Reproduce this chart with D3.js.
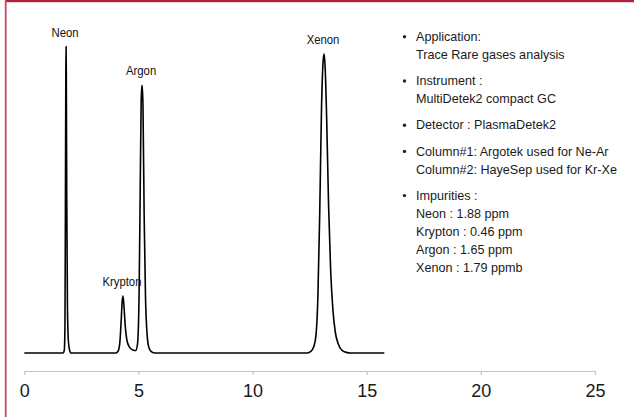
<!DOCTYPE html>
<html>
<head>
<meta charset="utf-8">
<script src="https://cdn.jsdelivr.net/npm/d3@7"></script>
<style>
  body { margin: 0; background: #fff; }
  svg { display: block; }
</style>
</head>
<body>
<script>
// chromatogram trace (time in min, signal in % of the Neon peak)
const traceTime = [0, 1.70, 1.75, 1.78, 1.80, 1.82, 1.83, 1.84, 1.86, 1.89, 1.93, 1.98, 2.05,
  4.00, 4.10, 4.18, 4.24, 4.29, 4.32, 4.36, 4.42, 4.50, 4.60, 4.75, 4.88, 4.96,
  5.03, 5.08, 5.12, 5.15, 5.17, 5.20, 5.25, 5.31, 5.38, 5.45, 5.55, 5.70,
  12.40, 12.55, 12.68, 12.78, 12.86, 12.94, 13.02, 13.08, 13.13, 13.18, 13.25, 13.33,
  13.42, 13.52, 13.62, 13.75, 13.90, 14.10, 14.30, 15.77]
const traceSignal = [0, 0, 0.8, 8, 45, 92, 100, 92, 50, 15, 4, 1, 0,
  0, 0.5, 3, 10, 17, 18.6, 16, 9, 4, 2, 1, 0.8, 3,
  20, 55, 82, 87.3, 87.3, 80, 45, 18, 6, 2, 0.5, 0,
  0, 0.5, 2, 6, 18, 45, 80, 94, 97.6, 93, 75, 48,
  27, 14, 7, 3, 1, 0.2, 0, 0]

// peaks
const peakNames = ["Neon", "Krypton", "Argon", "Xenon"]
const peakTimes = [1.83, 4.32, 5.16, 13.13]
const peakHeights = [100, 18.6, 87.3, 97.6]

const xTicks = [0, 5, 10, 15, 20, 25]

const infoBlocks = [
  ["Application:", "Trace Rare gases analysis"],
  ["Instrument :", "MultiDetek2 compact GC"],
  ["Detector : PlasmaDetek2"],
  ["Column#1: Argotek used for Ne-Ar", "Column#2: HayeSep used for Kr-Xe"],
  ["Impurities :", "Neon : 1.88 ppm", "Krypton : 0.46 ppm", "Argon : 1.65 ppm", "Xenon : 1.79 ppmb"]
]

const W = 634, H = 417
const svg = d3.select("body").append("svg")
  .attr("width", W)
  .attr("height", H)

// red frame (top band + left line)
svg.append("rect").attr("x", 5).attr("y", 0).attr("width", W - 5).attr("height", 2.2).attr("fill", "#b01f3b")
svg.append("rect").attr("x", 4.8).attr("y", 0).attr("width", 1.8).attr("height", H).attr("fill", "#c8485f")

const x = d3.scaleLinear().domain([0, 25]).range([24.3, 595])
const y = d3.scaleLinear().domain([0, 100]).range([353, 46.5])

// x axis
const axisG = svg.append("g")
  .attr("transform", "translate(0,371)")
  .call(d3.axisBottom(x).tickValues(xTicks).tickSize(4).tickSizeOuter(0).tickPadding(9))
axisG.select(".domain").attr("stroke", "#c4c4c4").attr("stroke-width", 1.2)
axisG.selectAll(".tick line").attr("stroke", "#c4c4c4").attr("stroke-width", 1.2)
axisG.selectAll(".tick text")
  .attr("fill", "#1a1a1a")
  .style("font-family", "'Liberation Sans', Arial, sans-serif")
  .style("font-size", "18px")

// trace
const points = traceTime.map((t, i) => [t, traceSignal[i]])
const line = d3.line()
  .x(d => x(d[0]))
  .y(d => y(d[1]))
  .curve(d3.curveMonotoneX)

svg.append("path")
  .datum(points)
  .attr("d", line)
  .attr("fill", "none")
  .attr("stroke", "#000")
  .attr("stroke-width", 1.6)
  .attr("stroke-linejoin", "round")

// peak labels (narrow face -> squeeze the regular one)
svg.selectAll(".peak-label")
  .data(peakNames)
  .join("text")
  .attr("class", "peak-label")
  .attr("transform", (d, i) => `translate(${x(peakTimes[i]) - 1},${y(peakHeights[i]) - 10}) scale(0.84,1)`)
  .attr("text-anchor", "middle")
  .style("font-family", "'Liberation Sans', Arial, sans-serif")
  .style("font-size", "13.5px")
  .attr("fill", "#111")
  .text(d => d)

// info text on the right
const info = svg.append("g").attr("class", "info")
let yPos = 41
infoBlocks.forEach(block => {
  info.append("circle")
    .attr("cx", 404.5)
    .attr("cy", yPos - 4.2)
    .attr("r", 1.7)
    .attr("fill", "#222")
  block.forEach((txt, j) => {
    info.append("text")
      .attr("x", 416)
      .attr("y", yPos + j * 18)
      .style("font-family", "'Liberation Sans', Arial, sans-serif")
      .style("font-size", "12.6px")
      .attr("fill", "#1a1a1a")
      .text(txt)
  })
  yPos += (block.length - 1) * 18 + 26.2
})
</script>
</body>
</html>
